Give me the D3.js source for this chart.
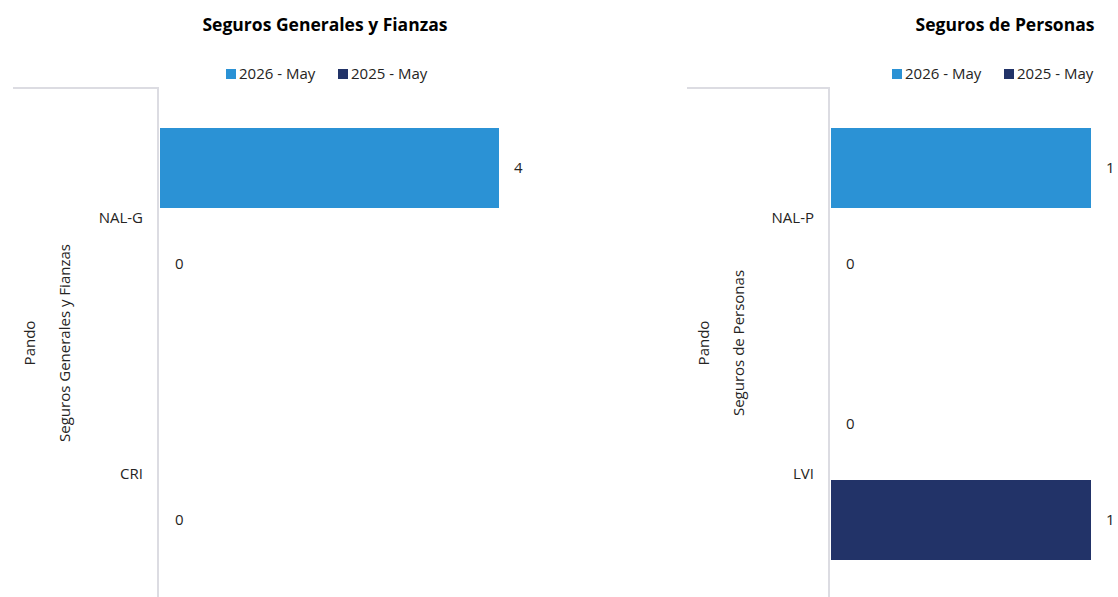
<!DOCTYPE html>
<html>
<head>
<meta charset="utf-8">
<script src="https://cdn.jsdelivr.net/npm/d3@7"></script>
<style>
  body { margin: 0; background: #fff; }
  text { font-family: "Open Sans", Lato, sans-serif; fill: #252423; }
</style>
</head>
<body>
<script>
var w = 1118;
var h = 597;

// data
const seriesNames = ["2026 - May", "2025 - May"];
const seriesColors = ["#2B92D5", "#223368"];
const groupLabel = "Pando";

const titleGen = "Seguros Generales y Fianzas";
const categoriesGen = ["NAL-G", "CRI"];
const values2026Gen = [4, null];
const values2025Gen = [0, 0];

const titlePer = "Seguros de Personas";
const categoriesPer = ["NAL-P", "LVI"];
const values2026Per = [1, 0];
const values2025Per = [0, 1];

var svg = d3.select("body").append("svg")
  .attr("width", w)
  .attr("height", h);

// left edge of frame, axis x, bar range end, title centre, legend x
drawPanel(titleGen, categoriesGen, [values2026Gen, values2025Gen], 4,
  {frameX: 13, axisX: 158, barEnd: 499, titleX: 325, legendX: 226});
drawPanel(titlePer, categoriesPer, [values2026Per, values2025Per], 1,
  {frameX: 687, axisX: 829, barEnd: 1091, titleX: 1005, legendX: 892});

function drawPanel(title, categories, values, maxVal, pos) {
  var g = svg.append("g");

  g.append("text")
    .attr("x", pos.titleX)
    .attr("y", 31)
    .attr("text-anchor", "middle")
    .style("font-size", "17.5px")
    .style("font-weight", "bold")
    .style("fill", "#000")
    .text(title);

  // legend
  var legendOffsets = [0, 112];
  seriesNames.forEach(function(name, i) {
    var lx = pos.legendX + legendOffsets[i];
    g.append("rect")
      .attr("x", lx).attr("y", 69)
      .attr("width", 10).attr("height", 10)
      .attr("fill", seriesColors[i]);
    g.append("text")
      .attr("x", lx + 13).attr("y", 79)
      .style("font-size", "15px")
      .text(name);
  });

  var top = 88, bottom = 600;

  var x = d3.scaleLinear()
    .domain([0, maxVal])
    .range([pos.axisX + 2, pos.barEnd]);

  var y = d3.scaleBand()
    .domain(categories)
    .range([top, bottom]);

  var ySub = d3.scaleBand()
    .domain(seriesNames)
    .range([0, y.bandwidth()])
    .paddingInner(1 / 6)
    .paddingOuter(5 / 12);

  // frame lines
  g.append("line")
    .attr("x1", pos.frameX).attr("x2", pos.axisX)
    .attr("y1", top).attr("y2", top)
    .attr("stroke", "#dcdce2").attr("stroke-width", 2);
  g.append("line")
    .attr("x1", pos.axisX).attr("x2", pos.axisX)
    .attr("y1", top - 1).attr("y2", h)
    .attr("stroke", "#dcdce2").attr("stroke-width", 2);

  var rows = [];
  categories.forEach(function(c, ci) {
    seriesNames.forEach(function(s, si) {
      rows.push({cat: c, series: s, si: si, value: values[si][ci]});
    });
  });

  g.selectAll("rect.bar")
    .data(rows.filter(function(d) { return d.value != null; }))
    .enter()
    .append("rect")
    .attr("class", "bar")
    .attr("x", x(0))
    .attr("y", function(d) { return y(d.cat) + ySub(d.series); })
    .attr("width", function(d) { return x(d.value) - x(0); })
    .attr("height", ySub.bandwidth())
    .attr("fill", function(d) { return seriesColors[d.si]; });

  g.selectAll("text.val")
    .data(rows.filter(function(d) { return d.value != null; }))
    .enter()
    .append("text")
    .attr("class", "val")
    .attr("x", function(d) { return x(d.value) + 15; })
    .attr("y", function(d) { return y(d.cat) + ySub(d.series) + ySub.bandwidth() / 2; })
    .attr("dy", "0.35em")
    .style("font-size", "15px")
    .text(function(d) { return d.value; });

  // category labels
  g.selectAll("text.cat")
    .data(categories)
    .enter()
    .append("text")
    .attr("class", "cat")
    .attr("x", pos.axisX - 15)
    .attr("y", function(d) { return y(d) + y.bandwidth() / 2 + 2; })
    .attr("dy", "0.35em")
    .attr("text-anchor", "end")
    .style("font-size", "15px")
    .text(function(d) { return d; });

  // rotated hierarchy labels
  var midY = 343;
  g.append("text")
    .attr("transform", "translate(" + (pos.frameX + 22) + "," + midY + ") rotate(-90)")
    .attr("text-anchor", "middle")
    .style("font-size", "15px")
    .text(groupLabel);
  g.append("text")
    .attr("transform", "translate(" + (pos.frameX + 57) + "," + midY + ") rotate(-90)")
    .attr("text-anchor", "middle")
    .style("font-size", "15px")
    .text(title);
}
</script>
</body>
</html>
